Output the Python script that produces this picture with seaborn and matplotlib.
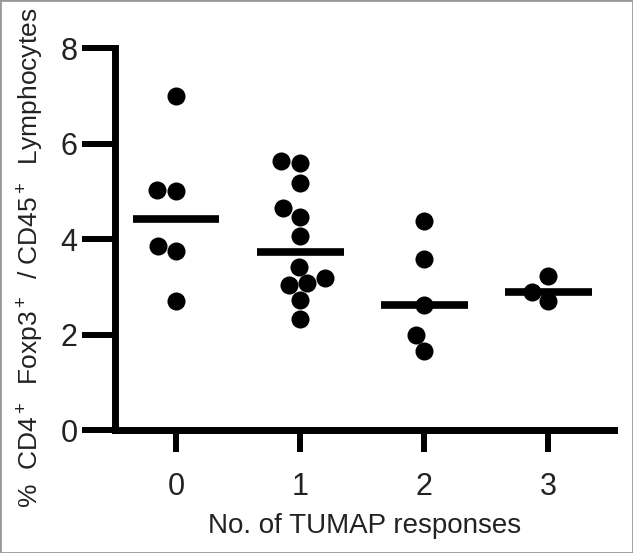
import numpy as np
import pandas as pd
import matplotlib
matplotlib.use('Agg')
import matplotlib.pyplot as plt
import seaborn as sns

# Données
categories = ['0', '1', '2', '3']
resp_0 = [7.00, 5.00, 5.02, 3.86, 3.75, 2.70]
resp_1 = [5.64, 5.60, 5.17, 4.65, 4.47, 4.06, 3.42, 3.19, 3.08, 3.04, 2.73, 2.33]
resp_2 = [4.39, 3.58, 2.62, 1.99, 1.65]
resp_3 = [3.23, 2.90, 2.70]
y_ticks = [0, 2, 4, 6, 8]

df = pd.DataFrame({
    'responses': ['0'] * len(resp_0) + ['1'] * len(resp_1)
                 + ['2'] * len(resp_2) + ['3'] * len(resp_3),
    'value': resp_0 + resp_1 + resp_2 + resp_3,
})

sns.set_style('ticks')
plt.rcParams['font.family'] = ['Liberation Sans', 'DejaVu Sans']
plt.rcParams['mathtext.fontset'] = 'custom'
plt.rcParams['mathtext.rm'] = 'Liberation Sans'
plt.rcParams['mathtext.it'] = 'Liberation Sans'

txt = '#222222'
fig = plt.figure(figsize=(6.33, 5.53), dpi=100)
ax = fig.add_axes([0.182, 0.222, 0.788, 0.691])

# Points
sns.swarmplot(data=df, x='responses', y='value', order=categories,
              color='black', size=13, ax=ax, zorder=3)

# Ligne de la médiane
sns.boxplot(data=df, x='responses', y='value', order=categories,
            showbox=False, showcaps=False, showfliers=False,
            whiskerprops={'visible': False},
            medianprops={'color': 'black', 'lw': 5.5, 'solid_capstyle': 'butt'},
            width=0.7, ax=ax)

ax.set_ylim(0, 8)
ax.set_xlim(-0.49, 3.53)
ax.set_yticks(y_ticks)

for side in ['top', 'right']:
    ax.spines[side].set_visible(False)
for side in ['left', 'bottom']:
    ax.spines[side].set_linewidth(5)
    ax.spines[side].set_color('black')

ax.tick_params(axis='y', length=24, width=4.3, pad=3, labelsize=22, colors='black', labelcolor=txt)
ax.tick_params(axis='x', length=16, width=4.3, pad=14, labelsize=22, colors='black', labelcolor=txt)

ax.set_xlabel('No. of TUMAP responses', fontsize=20, color=txt, labelpad=8)
ax.set_ylabel(r'%  CD4$^+$  Foxp3$^+$  / CD45$^+$  Lymphocytes', fontsize=19, color=txt)
ax.yaxis.set_label_coords(-0.138, 0.45)

# Cadre gris autour de la figure
fig.add_artist(plt.Rectangle((0, 0), 1, 1, transform=fig.transFigure,
                             fill=False, ec='#999999', lw=2))

fig.savefig('out.png', dpi=100)
